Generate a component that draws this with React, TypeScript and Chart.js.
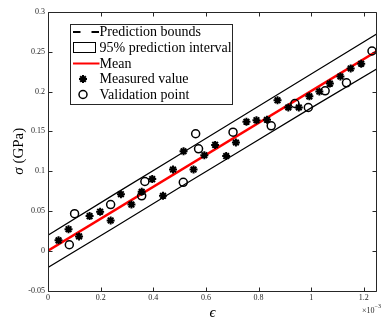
import React, { useEffect, useRef } from "react";
import { Chart, registerables } from "chart.js";

Chart.register(...registerables);

// x values are in units of 1e-3 (strain), y values in GPa
const measuredX = [0.040, 0.078, 0.118, 0.158, 0.198, 0.238, 0.277, 0.317, 0.356, 0.396, 0.437, 0.475, 0.515, 0.553, 0.594, 0.635, 0.677, 0.714, 0.754, 0.792, 0.832, 0.872, 0.913, 0.953, 0.993, 1.031, 1.071, 1.111, 1.150, 1.190];
const measuredY = [0.013, 0.027, 0.018, 0.0435, 0.049, 0.038, 0.071, 0.058, 0.074, 0.090, 0.069, 0.102, 0.125, 0.102, 0.120, 0.133, 0.119, 0.136, 0.162, 0.164, 0.1645, 0.189, 0.180, 0.180, 0.194, 0.200, 0.210, 0.219, 0.229, 0.235];

const validationX = [0.081, 0.101, 0.238, 0.356, 0.368, 0.514, 0.561, 0.572, 0.703, 0.848, 0.938, 0.989, 1.053, 1.134, 1.231];
const validationY = [0.0075, 0.0465, 0.058, 0.069, 0.087, 0.086, 0.147, 0.128, 0.149, 0.157, 0.185, 0.180, 0.201, 0.211, 0.251];

const meanX = [0, 1.25];
const meanY = [0, 0.251];

const boundX = [0, 0.25, 0.5, 0.75, 1.0, 1.25];
const upperBound = [0.0196, 0.0705, 0.1210, 0.1715, 0.2220, 0.2726];
const lowerBound = [-0.0210, 0.0290, 0.0795, 0.1295, 0.1795, 0.2286];

const xTickValues = [0, 0.2, 0.4, 0.6, 0.8, 1, 1.2];
const xTickLabels = ["0", "0.2", "0.4", "0.6", "0.8", "1", "1.2"];
const yTickValues = [-0.05, 0, 0.05, 0.1, 0.15, 0.2, 0.25, 0.3];
const yTickLabels = ["-0.05", "0", "0.05", "0.1", "0.15", "0.2", "0.25", "0.3"];

const legendLabels = ["Prediction bounds", "95% prediction interval", "Mean", "Measured value", "Validation point"];
const xTitle = "\u03F5";
const yTitle = "\u03C3 (GPa)";
const xExponentBase = "\u00D710";
const xExponent = "\u22123";

const AXIS = "#262626";
const SERIF = "'Liberation Serif', 'DejaVu Serif', serif";

function toPoints(xs: number[], ys: number[]) {
  return xs.map((x, i) => ({ x, y: ys[i] }));
}

function drawAsterisk(ctx: CanvasRenderingContext2D, x: number, y: number, r: number) {
  ctx.beginPath();
  for (let k = 0; k < 4; k++) {
    const a = (k * Math.PI) / 4;
    ctx.moveTo(x - r * Math.cos(a), y - r * Math.sin(a));
    ctx.lineTo(x + r * Math.cos(a), y + r * Math.sin(a));
  }
  ctx.stroke();
}

const framePlugin = {
  id: "frame",
  afterDraw(chart: any) {
    const ctx: CanvasRenderingContext2D = chart.ctx;
    const { left, right, top, bottom } = chart.chartArea;
    const xs = chart.scales.x;
    const ys = chart.scales.y;
    ctx.save();
    // box
    ctx.strokeStyle = AXIS;
    ctx.lineWidth = 1;
    ctx.beginPath();
    const L = Math.round(left) + 0.5;
    const R = Math.round(right) - 0.5;
    const T = Math.round(top) + 0.5;
    const B = Math.round(bottom) + 0.5;
    ctx.moveTo(L, T);
    ctx.lineTo(R, T);
    ctx.lineTo(R, B);
    ctx.lineTo(L, B);
    ctx.closePath();
    ctx.stroke();
    // ticks
    const tl = 4;
    ctx.beginPath();
    xTickValues.forEach((v) => {
      const px = Math.round(xs.getPixelForValue(v)) + 0.5;
      ctx.moveTo(px, B);
      ctx.lineTo(px, B - tl);
      ctx.moveTo(px, T);
      ctx.lineTo(px, T + tl);
    });
    yTickValues.forEach((v) => {
      const py = Math.round(ys.getPixelForValue(v)) + 0.5;
      ctx.moveTo(L, py);
      ctx.lineTo(L + tl, py);
      ctx.moveTo(R, py);
      ctx.lineTo(R - tl, py);
    });
    ctx.stroke();

    // axis titles
    ctx.fillStyle = "#000";
    ctx.font = `italic 15px ${SERIF}`;
    ctx.textAlign = "center";
    ctx.textBaseline = "middle";
    ctx.fillText(xTitle, (left + right) / 2, 313);
    ctx.save();
    ctx.translate(19, (top + bottom) / 2);
    ctx.rotate(-Math.PI / 2);
    ctx.font = `15px ${SERIF}`;
    const sigma = "\u03C3";
    const rest = yTitle.slice(1);
    ctx.font = `italic 15px ${SERIF}`;
    const wS = ctx.measureText(sigma).width;
    ctx.font = `15px ${SERIF}`;
    const wR = ctx.measureText(rest).width;
    const start = -(wS + wR) / 2;
    ctx.textAlign = "left";
    ctx.font = `italic 15px ${SERIF}`;
    ctx.fillText(sigma, start, 0);
    ctx.font = `15px ${SERIF}`;
    ctx.fillText(rest, start + wS, 0);
    ctx.restore();

    // exponent
    ctx.fillStyle = AXIS;
    ctx.textAlign = "left";
    ctx.textBaseline = "alphabetic";
    ctx.font = `8px ${SERIF}`;
    ctx.fillText(xExponentBase, 362, 313);
    const wb = ctx.measureText(xExponentBase).width;
    ctx.font = `6px ${SERIF}`;
    ctx.fillText(xExponent, 362 + wb, 308);

    // legend
    const bx = 70.5, by = 24.5, bw = 162, bh = 80;
    ctx.fillStyle = "#fff";
    ctx.fillRect(bx, by, bw, bh);
    ctx.strokeStyle = AXIS;
    ctx.lineWidth = 1;
    ctx.strokeRect(bx, by, bw, bh);
    const rowY = [32, 47.5, 63.5, 79, 94.5];
    const sx0 = 73, sx1 = 99.5, sxc = 83;
    // dashed
    ctx.strokeStyle = "#000";
    ctx.lineWidth = 2;
    ctx.setLineDash([7.5, 11]);
    ctx.beginPath();
    ctx.moveTo(sx0, rowY[0]);
    ctx.lineTo(sx1, rowY[0]);
    ctx.stroke();
    ctx.setLineDash([]);
    // rect
    ctx.lineWidth = 1;
    ctx.strokeStyle = "#000";
    ctx.fillStyle = "#fff";
    ctx.fillRect(73.5, 42.5, 22, 10);
    ctx.strokeRect(73.5, 42.5, 22, 10);
    // red line
    ctx.strokeStyle = "#ff0000";
    ctx.lineWidth = 2;
    ctx.beginPath();
    ctx.moveTo(sx0, rowY[2]);
    ctx.lineTo(sx1, rowY[2]);
    ctx.stroke();
    // asterisk
    ctx.strokeStyle = "#000";
    ctx.lineWidth = 2;
    drawAsterisk(ctx, sxc, rowY[3], 4);
    // circle
    ctx.lineWidth = 1.5;
    ctx.beginPath();
    ctx.arc(sxc, rowY[4], 4, 0, Math.PI * 2);
    ctx.stroke();
    // labels
    ctx.fillStyle = "#000";
    ctx.font = `14px ${SERIF}`;
    ctx.textAlign = "left";
    ctx.textBaseline = "middle";
    legendLabels.forEach((t, i) => ctx.fillText(t, 99.5, rowY[i] + 0.5));
    ctx.restore();
  },
};

export default function App() {
  const ref = useRef<HTMLCanvasElement | null>(null);
  useEffect(() => {
    document.body.style.margin = "0";
    if (!ref.current) return;
    const chart = new Chart(ref.current, {
      type: "scatter",
      data: {
        datasets: [
          {
            label: legendLabels[4],
            data: toPoints(validationX, validationY),
            pointStyle: "circle",
            pointRadius: 4,
            pointBorderWidth: 1.5,
            borderColor: "#000",
            backgroundColor: "rgba(0,0,0,0)",
            showLine: false,
            order: 0,
          },
          {
            label: legendLabels[3],
            data: toPoints(measuredX, measuredY),
            pointStyle: "star",
            pointRadius: 4,
            pointBorderWidth: 2,
            borderColor: "#000",
            backgroundColor: "#000",
            showLine: false,
            order: 1,
          },
          {
            label: legendLabels[2],
            data: toPoints(meanX, meanY),
            showLine: true,
            borderColor: "#ff0000",
            borderWidth: 2.5,
            pointRadius: 0,
            order: 2,
          },
          {
            label: legendLabels[0],
            data: toPoints(boundX, upperBound),
            showLine: true,
            borderColor: "#000",
            borderWidth: 1.2,
            pointRadius: 0,
            order: 3,
          },
          {
            label: legendLabels[0] + " (lower)",
            data: toPoints(boundX, lowerBound),
            showLine: true,
            borderColor: "#000",
            borderWidth: 1.2,
            pointRadius: 0,
            order: 3,
          },
        ],
      },
      options: {
        animation: false,
        responsive: false,
        devicePixelRatio: 1,
        layout: { padding: { top: 12, right: 0, bottom: 0, left: 0 } },
        plugins: { legend: { display: false }, tooltip: { enabled: false } },
        scales: {
          x: {
            type: "linear",
            min: 0,
            max: 1.25,
            grid: { display: false, drawTicks: false },
            border: { display: false },
            afterBuildTicks: (s: any) => {
              s.ticks = xTickValues.map((v) => ({ value: v }));
            },
            afterFit: (s: any) => {
              s.height = 30.5;
            },
            ticks: {
              autoSkip: false,
              maxRotation: 0,
              padding: 3,
              color: AXIS,
              font: { family: SERIF, size: 8 },
              callback: (v: any) => {
                const i = xTickValues.findIndex((t) => Math.abs(t - Number(v)) < 1e-9);
                return i >= 0 ? xTickLabels[i] : "";
              },
            },
          },
          y: {
            type: "linear",
            min: -0.05,
            max: 0.3,
            grid: { display: false, drawTicks: false },
            border: { display: false },
            afterBuildTicks: (s: any) => {
              s.ticks = yTickValues.map((v) => ({ value: v }));
            },
            afterFit: (s: any) => {
              s.width = 48;
            },
            ticks: {
              autoSkip: false,
              padding: 3,
              color: AXIS,
              font: { family: SERIF, size: 8 },
              callback: (v: any) => {
                const i = yTickValues.findIndex((t) => Math.abs(t - Number(v)) < 1e-9);
                return i >= 0 ? yTickLabels[i] : "";
              },
            },
          },
        },
      } as any,
      plugins: [framePlugin],
    });
    return () => chart.destroy();
  }, []);
  return <canvas ref={ref} width={383} height={321} style={{ display: "block", width: 383, height: 321 }} />;
}
